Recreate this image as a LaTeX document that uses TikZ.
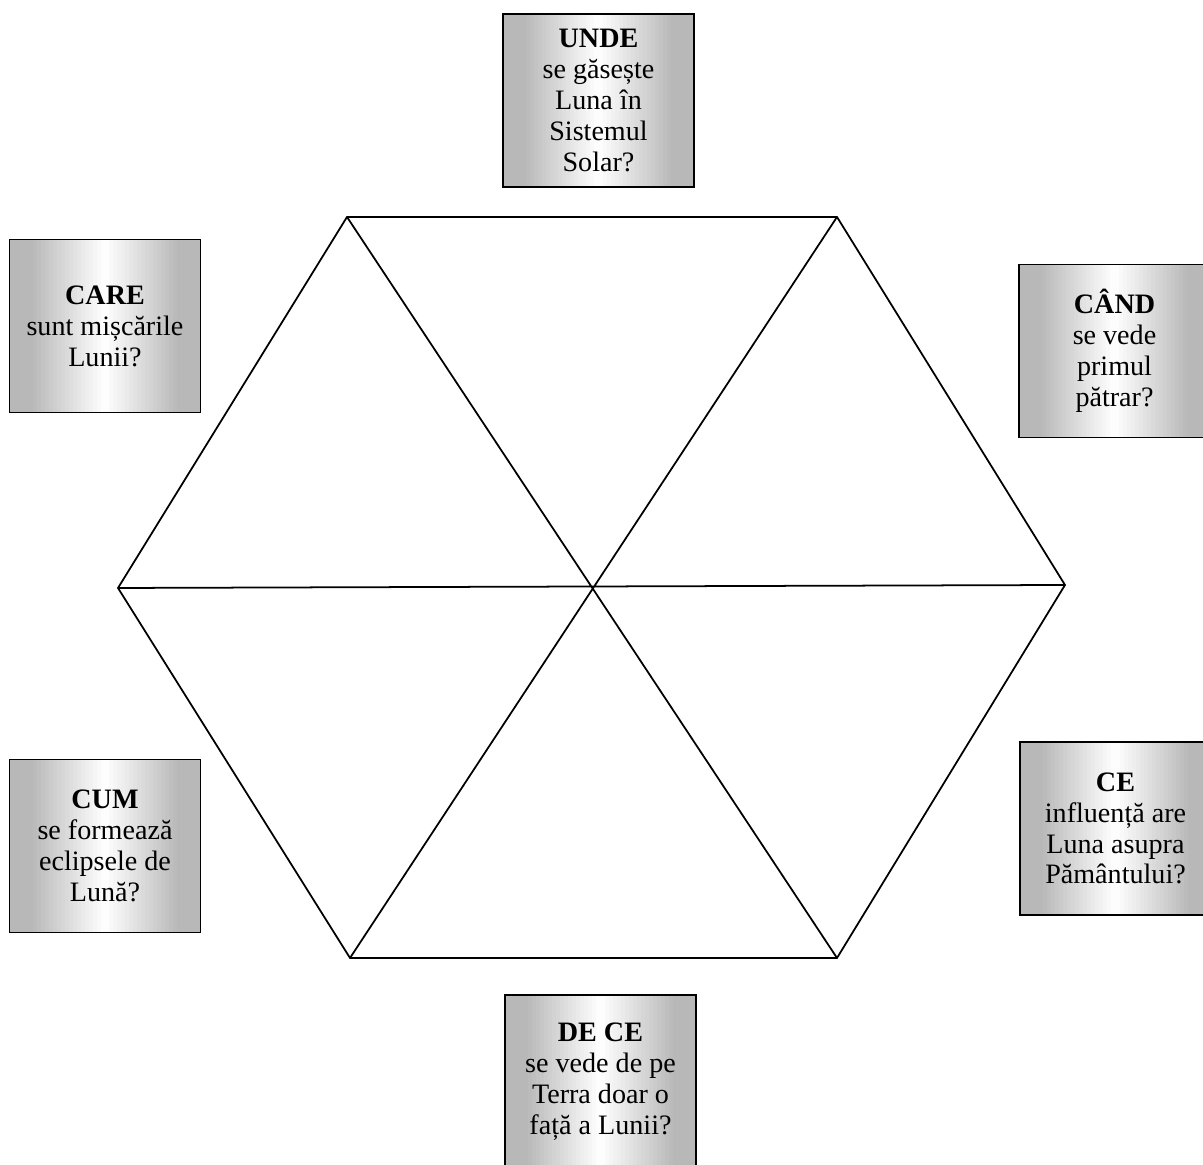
\documentclass[tikz,border=0pt]{standalone}
\usepackage{fontspec}
\setmainfont{Liberation Serif}
\usetikzlibrary{calc, backgrounds}
\tikzset{
	question/.style={draw=black, line width=1pt,
		minimum width=3.82cm, minimum height=3.46cm, align=center, inner sep=0pt,
		font=\fontsize{16}{17.6}\selectfont},
	hexline/.style={-, black, line width=1pt}
}
\begin{document}
\begin{tikzpicture}[x=0.02cm, y=0.02cm]
			\useasboundingbox (0, 0) rectangle (1203, 1165);
			\clip (0, 0) rectangle (1203, 1165);

			% hexagon
			\coordinate (topleft)		at (347, 948);
			\coordinate (topright)		at (837, 948);
			\coordinate (right)			at (1065, 580);
			\coordinate (bottomright)	at (837, 207);
			\coordinate (bottomleft)	at (350, 207);
			\coordinate (left)			at (118, 577);
			\coordinate (centre)		at (592, 577);

			\draw[hexline]	(topleft) -- (topright) -- (right) -- (bottomright) -- (bottomleft) -- (left) -- cycle;
			\draw[hexline]	(topleft) -- (bottomright)
							(topright) -- (bottomleft)
							(left) -- (right);

			% questions
			\node[question] (unde)	at (598.5, 1064.5)	{\textbf{UNDE}\\se găsește\\Luna în\\Sistemul\\Solar?};
			\node[question] (care)	at (105, 839)		{\textbf{CARE}\\sunt mișcările\\Lunii?};
			\node[question] (cand)	at (1114.5, 814)	{\textbf{CÂND}\\se vede\\primul\\pătrar?};
			\node[question] (cum)	at (105, 319)		{\textbf{CUM}\\se formează\\eclipsele de\\Lună?};
			\node[question] (ce)	at (1115.5, 336.5)	{\textbf{CE}\\influență are\\Luna asupra\\Pământului?};
			\node[question] (dece)	at (600.5, 83.5)	{\textbf{DE CE}\\se vede de pe\\Terra doar o\\față a Lunii?};

			% grey from the sides to white in the middle
			\begin{scope}[on background layer]
				\foreach \q in {unde, care, cand, cum, ce, dece}
					\foreach \i in {0,...,47} {
						\pgfmathsetmacro{\tone}{28*min(1, 1.3*abs((\i+0.5)/24-1))}
						\pgfmathsetmacro{\xb}{min((\i+1.4)/48,1)}
						\fill[black!\tone] ($(\q.south west)!\i/48!(\q.south east)$) rectangle ($(\q.north west)!\xb!(\q.north east)$);
					}
			\end{scope}
		\end{tikzpicture}
\end{document}
